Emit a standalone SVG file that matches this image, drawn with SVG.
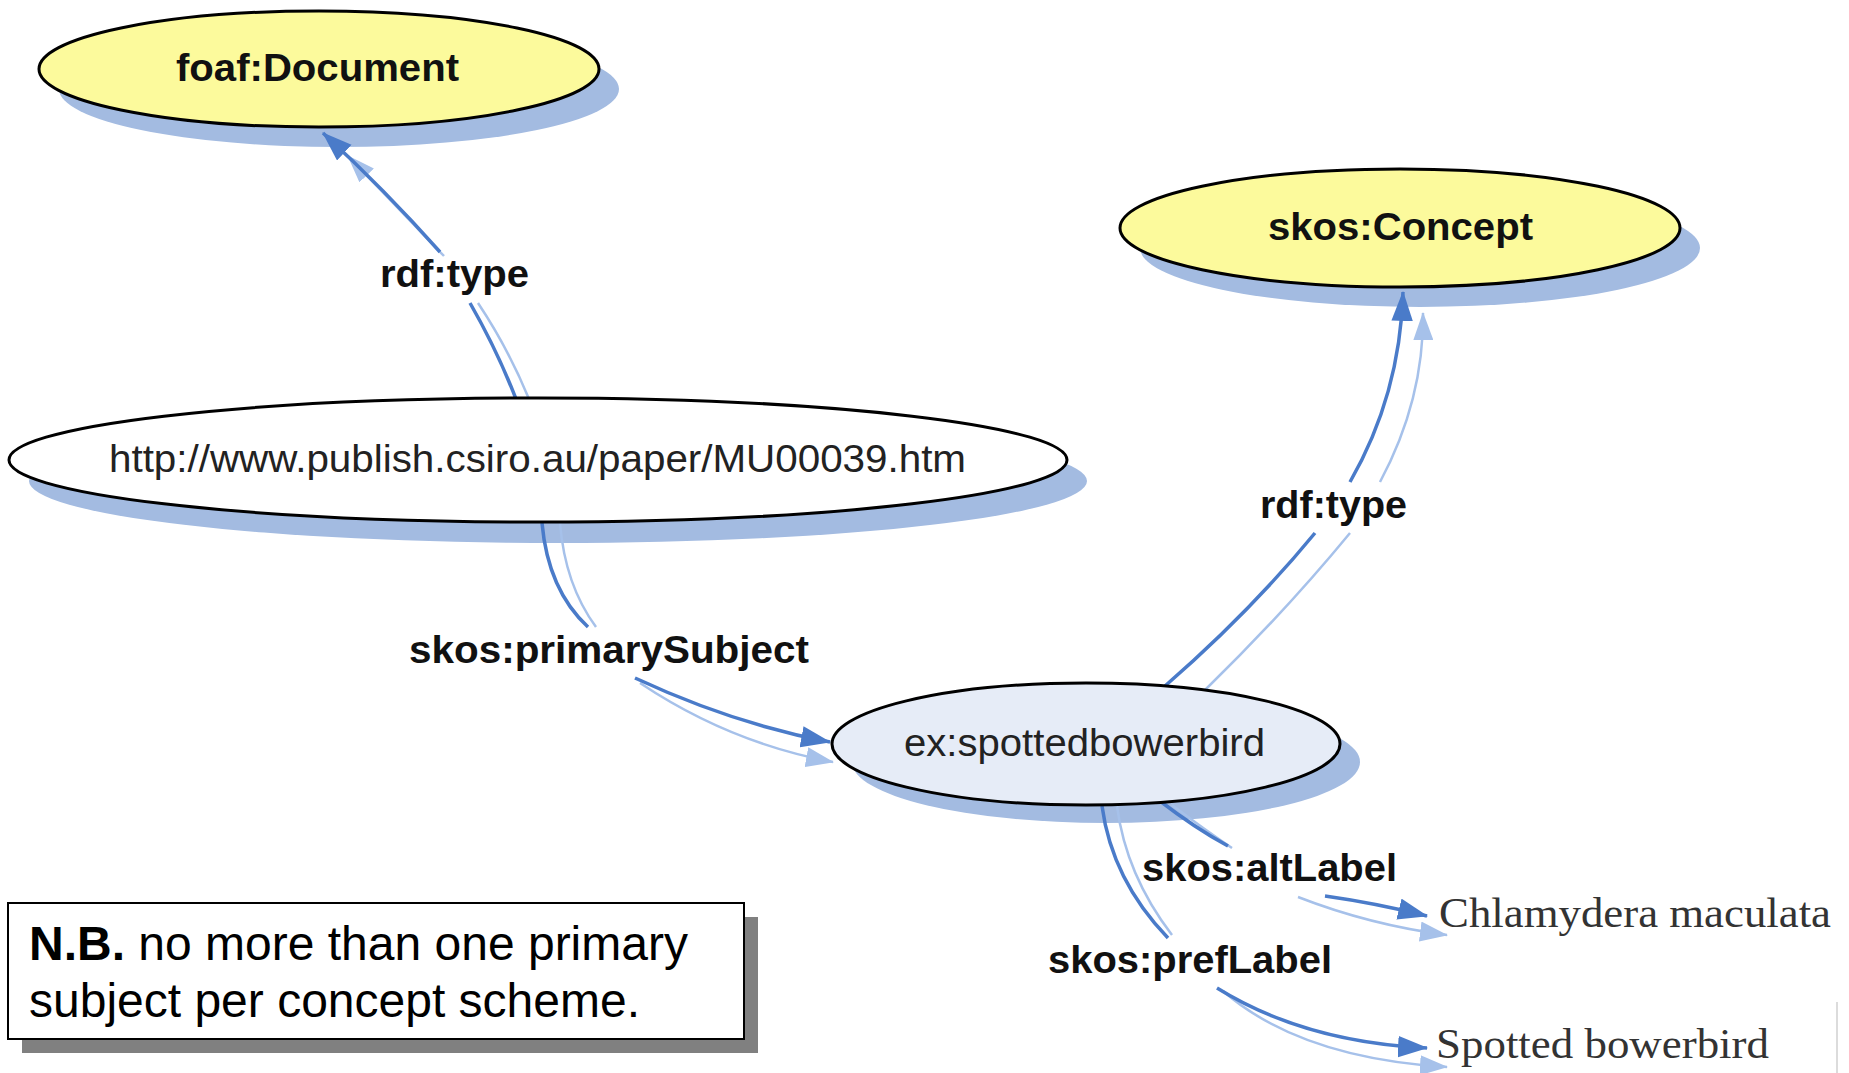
<svg xmlns="http://www.w3.org/2000/svg" width="1849" height="1073" viewBox="0 0 1849 1073">
<defs>
<style>
.shadow{fill:#a3bbe1;stroke:none}
.node{stroke:#000;stroke-width:3}
.yellow{fill:#fcfa9c}
.white{fill:#fff}
.pale{fill:#e6ecf7}
.dark{fill:none;stroke:#4a7bc9;stroke-width:3.5}
.light{fill:none;stroke:#a6c1ea;stroke-width:2.5}
.bold{font-family:"Liberation Sans",Arial,Helvetica,sans-serif;font-weight:bold;font-size:38px;fill:#111}
.reg{font-family:"Liberation Sans",Arial,Helvetica,sans-serif;font-size:38px;fill:#222}
.serif{font-family:"Liberation Serif","Times New Roman",serif;font-size:43px;fill:#333}
.note{font-family:"Liberation Sans",Arial,Helvetica,sans-serif;font-size:48px;fill:#000}
</style>
<marker id="ad" markerUnits="userSpaceOnUse" markerWidth="30" markerHeight="22" viewBox="0 0 28 20" refX="27" refY="10" orient="auto"><path d="M0,0 L28,10 L0,20 z" fill="#4a7bc9"/></marker>
<marker id="al" markerUnits="userSpaceOnUse" markerWidth="28" markerHeight="20" viewBox="0 0 28 20" refX="27" refY="10" orient="auto"><path d="M0,0 L28,10 L0,20 z" fill="#a6c1ea"/></marker>
</defs>
<rect width="1849" height="1073" fill="#fff"/>
<line x1="1837" y1="1002" x2="1837" y2="1073" stroke="#d0d0d0" stroke-width="1.5"/>

<g id="shadows">
<ellipse class="shadow" cx="339" cy="89" rx="280" ry="58"/>
<ellipse class="shadow" cx="1420" cy="248" rx="280" ry="59"/>
<ellipse class="shadow" cx="558" cy="481" rx="529" ry="62"/>
<ellipse class="shadow" cx="1106" cy="762" rx="254" ry="61"/>
</g>

<g id="connectors">
<path class="light" d="M529,399 Q508,348 478,303"/>
<path class="light" d="M444,256 L348,156" marker-end="url(#al)"/>
<path class="light" d="M560,523 Q565,585 596,627"/>
<path class="light" d="M640,683 Q730,743 833,762" marker-end="url(#al)"/>
<path class="light" d="M1205,690 Q1285,612 1350,533"/>
<path class="light" d="M1380,482 Q1424,400 1423,313" marker-end="url(#al)"/>
<path class="light" d="M1172,805 Q1205,830 1232,848"/>
<path class="light" d="M1298,897 Q1370,925 1447,935" marker-end="url(#al)"/>
<path class="light" d="M1117,806 Q1126,875 1172,935"/>
<path class="light" d="M1223,991 Q1300,1058 1447,1067" marker-end="url(#al)"/>
<path class="dark" d="M516,399 Q497,350 470,303"/>
<path class="dark" d="M440,252 Q385,190 323,133" marker-end="url(#ad)"/>
<path class="dark" d="M542,523 Q548,590 588,627"/>
<path class="dark" d="M635,678 Q734,724 830,742" marker-end="url(#ad)"/>
<path class="dark" d="M1165,686 Q1250,612 1315,533"/>
<path class="dark" d="M1350,482 Q1400,395 1403,292" marker-end="url(#ad)"/>
<path class="dark" d="M1160,801 Q1195,828 1228,846"/>
<path class="dark" d="M1325,896 Q1375,903 1427,916" marker-end="url(#ad)"/>
<path class="dark" d="M1102,806 Q1112,880 1168,938"/>
<path class="dark" d="M1217,988 Q1304,1042 1427,1048" marker-end="url(#ad)"/>
<text class="bold" x="380" y="287" textLength="149" lengthAdjust="spacingAndGlyphs">rdf:type</text>
<text class="bold" x="409" y="663" textLength="400" lengthAdjust="spacingAndGlyphs">skos:primarySubject</text>
<text class="bold" x="1260" y="518" textLength="147" lengthAdjust="spacingAndGlyphs">rdf:type</text>
<text class="bold" x="1142" y="881" textLength="255" lengthAdjust="spacingAndGlyphs">skos:altLabel</text>
<text class="bold" x="1048" y="973" textLength="284" lengthAdjust="spacingAndGlyphs">skos:prefLabel</text>
</g>

<g id="foafDocument">
<ellipse class="node yellow" cx="319" cy="69" rx="280" ry="58"/>
<text class="bold" x="176" y="81" textLength="283" lengthAdjust="spacingAndGlyphs">foaf:Document</text>
</g>
<g id="skosConcept">
<ellipse class="node yellow" cx="1400" cy="228" rx="280" ry="59"/>
<text class="bold" x="1268" y="240" textLength="265" lengthAdjust="spacingAndGlyphs">skos:Concept</text>
</g>
<g id="paper">
<ellipse class="node white" cx="538" cy="460" rx="529" ry="62"/>
<text class="reg" x="109" y="472" textLength="857" lengthAdjust="spacingAndGlyphs">http://www.publish.csiro.au/paper/MU00039.htm</text>
</g>
<g id="spottedbowerbird">
<ellipse class="node pale" cx="1086" cy="744" rx="254" ry="61"/>
<text class="reg" x="904" y="756" textLength="361" lengthAdjust="spacingAndGlyphs">ex:spottedbowerbird</text>
</g>
<g id="altLiteral">
<text class="serif" x="1439" y="927" textLength="392" lengthAdjust="spacingAndGlyphs">Chlamydera maculata</text>
</g>
<g id="prefLiteral">
<text class="serif" x="1436" y="1058" textLength="333" lengthAdjust="spacingAndGlyphs">Spotted bowerbird</text>
</g>

<g id="note">
<rect x="22" y="917" width="736" height="136" fill="#808080"/>
<rect x="8" y="903" width="736" height="136" fill="#fff" stroke="#000" stroke-width="2"/>
<text class="note" x="29" y="960"><tspan font-weight="bold">N.B.</tspan> no more than one primary</text>
<text class="note" x="29" y="1017">subject per concept scheme.</text>
</g>
</svg>
